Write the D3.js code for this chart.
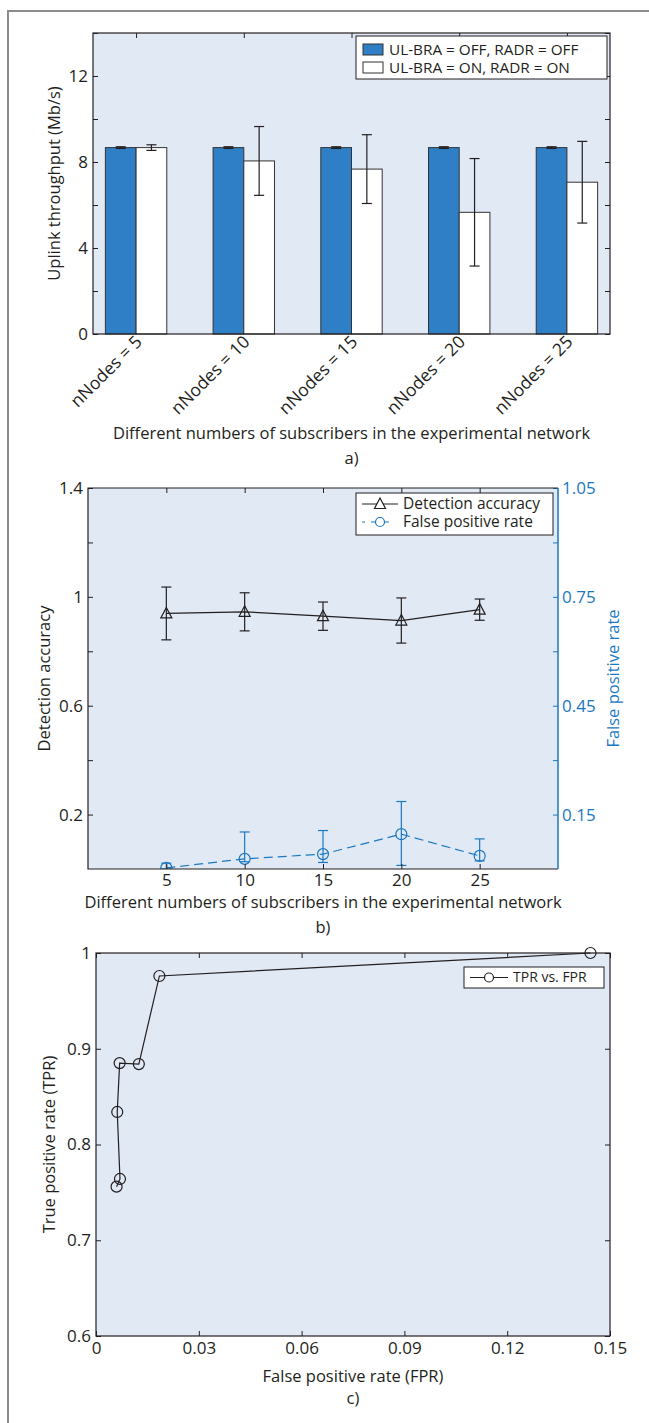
<!DOCTYPE html>
<meta charset="utf-8">
<head>
    <script src="https://d3js.org/d3.v7.min.js"></script>
    <style>
        body { margin: 0; background: #fff; }
        svg text { font-family: "Open Sans", "Noto Sans", sans-serif; fill: #231f20; }
        .axis path { display: none; }
        .axis line { stroke: #231f20; }
        .axis text { font-size: 17px; }
    </style>
</head>
<body>
<div id="fig"></div>
<script>
    // panel a
    var groups = ["nNodes = 5", "nNodes = 10", "nNodes = 15", "nNodes = 20", "nNodes = 25"];
    var offMean = [8.67, 8.67, 8.67, 8.67, 8.67];
    var offErr = [0.04, 0.04, 0.04, 0.04, 0.04];
    var onMean = [8.67, 8.05, 7.67, 5.66, 7.06];
    var onErr = [0.13, 1.6, 1.6, 2.5, 1.9];
    var legendA = ["UL-BRA = OFF, RADR = OFF", "UL-BRA = ON, RADR = ON"];

    // panel b
    var nodes = [5, 10, 15, 20, 25];
    var accMean = [0.939, 0.945, 0.929, 0.913, 0.953];
    var accErr = [0.097, 0.07, 0.052, 0.083, 0.039];
    var fprMean = [0.003, 0.028, 0.041, 0.096, 0.036];
    var fprLow = [0.0, 0.02, 0.018, 0.010, 0.0225];
    var fprHigh = [0.016, 0.102, 0.106, 0.186, 0.083];
    var accLabels = [0.2, 0.6, 1, 1.4];
    var fprLabels = [0.15, 0.45, 0.75, 1.05];

    // panel c
    var rocFpr = [0.0060, 0.0070, 0.0062, 0.0069, 0.0125, 0.0185, 0.1443];
    var rocTpr = [0.756, 0.764, 0.834, 0.885, 0.884, 0.976, 1.0];

    var bg = "#e1e9f5", barBlue = "#2e7fc5", lineBlue = "#1a78c2", ink = "#231f20";

    var svg = d3.select("#fig").append("svg")
        .attr("width", 649)
        .attr("height", 1423);

    // outer frame
    svg.append("path")
        .attr("d", "M8,1423V11H649")
        .attr("fill", "none")
        .attr("stroke", "#8c8c8c")
        .attr("stroke-width", 2);

    var errBar = function(g, x, y0, y1, cap, color) {
        g.append("line").attr("x1", x).attr("x2", x).attr("y1", y0).attr("y2", y1)
            .attr("stroke", color).attr("stroke-width", 1.2);
        [y0, y1].forEach(function(y) {
            g.append("line").attr("x1", x - cap).attr("x2", x + cap).attr("y1", y).attr("y2", y)
                .attr("stroke", color).attr("stroke-width", 1.2);
        });
    };

    // ---------- a) ----------
    var a = {left: 93, right: 610, top: 33, bottom: 334};
    var xA = d3.scaleLinear().domain([0.6, 5.4]).range([a.left, a.right]);
    var yA = d3.scaleLinear().domain([0, 14]).range([a.bottom, a.top]);
    var bw = xA(1.285) - xA(1);

    svg.append("rect")
        .attr("x", a.left).attr("y", a.top)
        .attr("width", a.right - a.left).attr("height", a.bottom - a.top)
        .attr("fill", bg);

    var idx = d3.range(groups.length);

    svg.selectAll(".barOff")
        .data(idx)
        .enter().append("rect")
        .attr("x", function(i) { return xA(i + 1) - bw; })
        .attr("y", function(i) { return yA(offMean[i]); })
        .attr("width", bw)
        .attr("height", function(i) { return yA(0) - yA(offMean[i]); })
        .attr("fill", barBlue)
        .attr("stroke", "#333")
        .attr("stroke-width", 1);

    svg.selectAll(".barOn")
        .data(idx)
        .enter().append("rect")
        .attr("x", function(i) { return xA(i + 1); })
        .attr("y", function(i) { return yA(onMean[i]); })
        .attr("width", bw)
        .attr("height", function(i) { return yA(0) - yA(onMean[i]); })
        .attr("fill", "#fff")
        .attr("stroke", "#333")
        .attr("stroke-width", 1);

    var errA = svg.append("g");
    idx.forEach(function(i) {
        errBar(errA, xA(i + 1) - bw / 2, yA(offMean[i] - offErr[i]), yA(offMean[i] + offErr[i]), 5, ink);
        errBar(errA, xA(i + 1) + bw / 2, yA(onMean[i] - onErr[i]), yA(onMean[i] + onErr[i]), 5, ink);
    });

    svg.append("g").attr("class", "axis")
        .attr("transform", "translate(" + a.left + ",0)")
        .call(d3.axisLeft(yA).tickValues(d3.range(0, 15, 2)).tickSize(-5).tickPadding(5)
            .tickFormat(function(d) { return d % 4 === 0 && d < 14 ? d : ""; }));
    svg.append("g").attr("class", "axis")
        .attr("transform", "translate(" + a.right + ",0)")
        .call(d3.axisRight(yA).tickValues(d3.range(0, 15, 2)).tickSize(-5).tickFormat(""));
    svg.append("g").attr("class", "axis")
        .attr("transform", "translate(0," + a.top + ")")
        .call(d3.axisTop(xA).tickValues([1, 2, 3, 4, 5]).tickSize(-5).tickFormat(""));

    svg.append("rect")
        .attr("x", a.left).attr("y", a.top)
        .attr("width", a.right - a.left).attr("height", a.bottom - a.top)
        .attr("fill", "none").attr("stroke", ink).attr("stroke-width", 1.2);

    svg.append("g").selectAll("text")
        .data(groups)
        .enter().append("text")
        .attr("transform", function(d, i) { return "translate(" + (xA(i + 1) + 7) + "," + (a.bottom + 9) + ") rotate(-45)"; })
        .style("text-anchor", "end")
        .style("font-size", "17.5px")
        .text(function(d) { return d; });

    svg.append("text")
        .attr("transform", "translate(60," + (a.top + a.bottom) / 2 + ") rotate(-90)")
        .style("text-anchor", "middle").style("font-size", "16.5px")
        .text("Uplink throughput (Mb/s)");
    svg.append("text")
        .attr("x", (a.left + a.right) / 2).attr("y", 439)
        .style("text-anchor", "middle").style("font-size", "16.5px")
        .text("Different numbers of subscribers in the experimental network");
    svg.append("text")
        .attr("x", (a.left + a.right) / 2).attr("y", 464)
        .style("text-anchor", "middle").style("font-size", "16.5px")
        .text("a)");

    var legA = svg.append("g");
    legA.append("rect")
        .attr("x", 356).attr("y", 36).attr("width", 251).attr("height", 43)
        .attr("fill", "#fff").attr("stroke", ink).attr("stroke-width", 1);
    legA.selectAll(".sw")
        .data(legendA)
        .enter().append("rect")
        .attr("x", 363).attr("y", function(d, i) { return 44 + i * 18; })
        .attr("width", 20).attr("height", 11)
        .attr("fill", function(d, i) { return i === 0 ? barBlue : "#fff"; })
        .attr("stroke", "#333");
    legA.selectAll(".lt")
        .data(legendA)
        .enter().append("text")
        .attr("x", 389).attr("y", function(d, i) { return 50 + i * 18; })
        .attr("dy", ".35em")
        .style("font-size", "15.3px")
        .text(function(d) { return d; });

    // ---------- b) ----------
    var b = {left: 88, right: 558, top: 488, bottom: 869};
    var xB = d3.scaleLinear().domain([0, 30]).range([b.left, b.right]);
    var yB = d3.scaleLinear().domain([0, 1.4]).range([b.bottom, b.top]);
    var yB2 = d3.scaleLinear().domain([0, 1.05]).range([b.bottom, b.top]);

    svg.append("rect")
        .attr("x", b.left).attr("y", b.top)
        .attr("width", b.right - b.left).attr("height", b.bottom - b.top)
        .attr("fill", bg);

    svg.append("defs").append("clipPath").attr("id", "clipB")
        .append("rect")
        .attr("x", b.left).attr("y", b.top)
        .attr("width", b.right - b.left).attr("height", b.bottom - b.top);

    var gB = svg.append("g").attr("clip-path", "url(#clipB)");

    // accuracy series
    nodes.forEach(function(n, i) {
        errBar(gB, xB(n), yB(accMean[i] - accErr[i]), yB(accMean[i] + accErr[i]), 5, ink);
    });
    gB.append("path")
        .datum(nodes)
        .attr("fill", "none").attr("stroke", ink).attr("stroke-width", 1.2)
        .attr("d", d3.line().x(function(d) { return xB(d); }).y(function(d, i) { return yB(accMean[i]); }));
    gB.selectAll(".tri")
        .data(nodes)
        .enter().append("path")
        .attr("transform", function(d, i) { return "translate(" + xB(d) + "," + yB(accMean[i]) + ")"; })
        .attr("d", "M0,-6L5.5,4.5L-5.5,4.5Z")
        .attr("fill", "none").attr("stroke", ink).attr("stroke-width", 1.2);

    // false positive rate series
    nodes.forEach(function(n, i) {
        errBar(gB, xB(n), yB2(fprLow[i]), yB2(fprHigh[i]), 5, lineBlue);
    });
    gB.append("path")
        .datum(nodes)
        .attr("fill", "none").attr("stroke", lineBlue).attr("stroke-width", 1.2)
        .attr("stroke-dasharray", "9,5")
        .attr("d", d3.line().x(function(d) { return xB(d); }).y(function(d, i) { return yB2(fprMean[i]); }));
    gB.selectAll(".circ")
        .data(nodes)
        .enter().append("circle")
        .attr("cx", function(d) { return xB(d); })
        .attr("cy", function(d, i) { return yB2(fprMean[i]); })
        .attr("r", 5.5)
        .attr("fill", "none").attr("stroke", lineBlue).attr("stroke-width", 1.2);

    svg.append("g").attr("class", "axis")
        .attr("transform", "translate(" + b.left + ",0)")
        .call(d3.axisLeft(yB).tickValues(d3.range(2, 15, 2).map(function(d) { return d / 10; }))
            .tickSize(-5).tickPadding(5)
            .tickFormat(function(d) { return accLabels.indexOf(d) >= 0 ? d3.format("~g")(d) : ""; }));
    var rightB = svg.append("g").attr("class", "axis")
        .attr("transform", "translate(" + b.right + ",0)")
        .call(d3.axisRight(yB2).tickValues([0.15, 0.3, 0.45, 0.6, 0.75, 0.9, 1.05])
            .tickSize(-5).tickPadding(4)
            .tickFormat(function(d) { return fprLabels.indexOf(d) >= 0 ? d3.format(".2f")(d) : ""; }));
    rightB.selectAll("line").style("stroke", lineBlue);
    rightB.selectAll("text").style("fill", lineBlue);
    svg.append("g").attr("class", "axis")
        .attr("transform", "translate(0," + b.bottom + ")")
        .call(d3.axisBottom(xB).tickValues(nodes).tickSize(-5).tickPadding(5));
    svg.append("g").attr("class", "axis")
        .attr("transform", "translate(0," + b.top + ")")
        .call(d3.axisTop(xB).tickValues(nodes).tickSize(-5).tickFormat(""));

    svg.append("path")
        .attr("d", "M" + b.right + "," + b.top + "H" + b.left + "V" + b.bottom + "H" + b.right)
        .attr("fill", "none").attr("stroke", ink).attr("stroke-width", 1.2);
    svg.append("line")
        .attr("x1", b.right).attr("x2", b.right).attr("y1", b.top).attr("y2", b.bottom)
        .attr("stroke", lineBlue).attr("stroke-width", 1.5);

    svg.append("text")
        .attr("transform", "translate(50," + (b.top + b.bottom) / 2 + ") rotate(-90)")
        .style("text-anchor", "middle").style("font-size", "16.5px")
        .text("Detection accuracy");
    svg.append("text")
        .attr("transform", "translate(619," + (b.top + b.bottom) / 2 + ") rotate(-90)")
        .style("text-anchor", "middle").style("font-size", "16.5px")
        .style("fill", lineBlue)
        .text("False positive rate");
    svg.append("text")
        .attr("x", (b.left + b.right) / 2).attr("y", 908)
        .style("text-anchor", "middle").style("font-size", "16.5px")
        .text("Different numbers of subscribers in the experimental network");
    svg.append("text")
        .attr("x", (b.left + b.right) / 2).attr("y", 933)
        .style("text-anchor", "middle").style("font-size", "16.5px")
        .text("b)");

    var legB = svg.append("g");
    legB.append("rect")
        .attr("x", 356).attr("y", 493).attr("width", 197).attr("height", 42)
        .attr("fill", "#fff").attr("stroke", ink).attr("stroke-width", 1);
    legB.append("line").attr("x1", 362).attr("x2", 398).attr("y1", 504).attr("y2", 504)
        .attr("stroke", ink).attr("stroke-width", 1.2);
    legB.append("path").attr("transform", "translate(380,504)")
        .attr("d", "M0,-6L5.5,4.5L-5.5,4.5Z")
        .attr("fill", "#fff").attr("stroke", ink).attr("stroke-width", 1.2);
    legB.append("line").attr("x1", 362).attr("x2", 398).attr("y1", 522).attr("y2", 522)
        .attr("stroke", lineBlue).attr("stroke-width", 1.2).attr("stroke-dasharray", "3,6,9");
    legB.append("circle").attr("cx", 380).attr("cy", 522).attr("r", 4.5)
        .attr("fill", "#fff").attr("stroke", lineBlue).attr("stroke-width", 1.2);
    legB.selectAll(".lt")
        .data(["Detection accuracy", "False positive rate"])
        .enter().append("text")
        .attr("x", 403).attr("y", function(d, i) { return 504 + i * 18; })
        .attr("dy", ".35em")
        .style("font-size", "15.5px")
        .text(function(d) { return d; });

    // ---------- c) ----------
    var c = {left: 96, right: 610, top: 953, bottom: 1336};
    var xC = d3.scaleLinear().domain([0, 0.15]).range([c.left, c.right]);
    var yC = d3.scaleLinear().domain([0.6, 1]).range([c.bottom, c.top]);

    svg.append("rect")
        .attr("x", c.left).attr("y", c.top)
        .attr("width", c.right - c.left).attr("height", c.bottom - c.top)
        .attr("fill", bg);

    var xTicksC = [0, 0.03, 0.06, 0.09, 0.12, 0.15];
    var yTicksC = [0.6, 0.7, 0.8, 0.9, 1];

    svg.append("g").attr("class", "axis")
        .attr("transform", "translate(0," + c.bottom + ")")
        .call(d3.axisBottom(xC).tickValues(xTicksC).tickSize(-5).tickPadding(6).tickFormat(d3.format("~g")));
    svg.append("g").attr("class", "axis")
        .attr("transform", "translate(0," + c.top + ")")
        .call(d3.axisTop(xC).tickValues(xTicksC).tickSize(-5).tickFormat(""));
    svg.append("g").attr("class", "axis")
        .attr("transform", "translate(" + c.left + ",0)")
        .call(d3.axisLeft(yC).tickValues(yTicksC).tickSize(-5).tickPadding(5).tickFormat(d3.format("~g")));
    svg.append("g").attr("class", "axis")
        .attr("transform", "translate(" + c.right + ",0)")
        .call(d3.axisRight(yC).tickValues(yTicksC).tickSize(-5).tickFormat(""));

    svg.append("rect")
        .attr("x", c.left).attr("y", c.top)
        .attr("width", c.right - c.left).attr("height", c.bottom - c.top)
        .attr("fill", "none").attr("stroke", ink).attr("stroke-width", 1.2);

    svg.append("path")
        .datum(rocFpr)
        .attr("fill", "none").attr("stroke", ink).attr("stroke-width", 1.2)
        .attr("d", d3.line().x(function(d) { return xC(d); }).y(function(d, i) { return yC(rocTpr[i]); }));
    svg.selectAll(".roc")
        .data(rocFpr)
        .enter().append("circle")
        .attr("cx", function(d) { return xC(d); })
        .attr("cy", function(d, i) { return yC(rocTpr[i]); })
        .attr("r", 5.5)
        .attr("fill", "none").attr("stroke", ink).attr("stroke-width", 1.2);

    svg.append("text")
        .attr("transform", "translate(55," + (c.top + c.bottom) / 2 + ") rotate(-90)")
        .style("text-anchor", "middle").style("font-size", "16.5px")
        .text("True positive rate (TPR)");
    svg.append("text")
        .attr("x", (c.left + c.right) / 2).attr("y", 1382)
        .style("text-anchor", "middle").style("font-size", "16.5px")
        .text("False positive rate (FPR)");
    svg.append("text")
        .attr("x", (c.left + c.right) / 2).attr("y", 1404)
        .style("text-anchor", "middle").style("font-size", "16.5px")
        .text("c)");

    var legC = svg.append("g");
    legC.append("rect")
        .attr("x", 464).attr("y", 967).attr("width", 140).attr("height", 21)
        .attr("fill", "#fff").attr("stroke", ink).attr("stroke-width", 1);
    legC.append("line").attr("x1", 470).attr("x2", 508).attr("y1", 977.5).attr("y2", 977.5)
        .attr("stroke", ink).attr("stroke-width", 1.2);
    legC.append("circle").attr("cx", 489).attr("cy", 977.5).attr("r", 4.5)
        .attr("fill", "#fff").attr("stroke", ink).attr("stroke-width", 1.2);
    legC.append("text")
        .attr("x", 513).attr("y", 977.5).attr("dy", ".35em")
        .style("font-size", "14px")
        .text("TPR vs. FPR");
</script>
</body>
